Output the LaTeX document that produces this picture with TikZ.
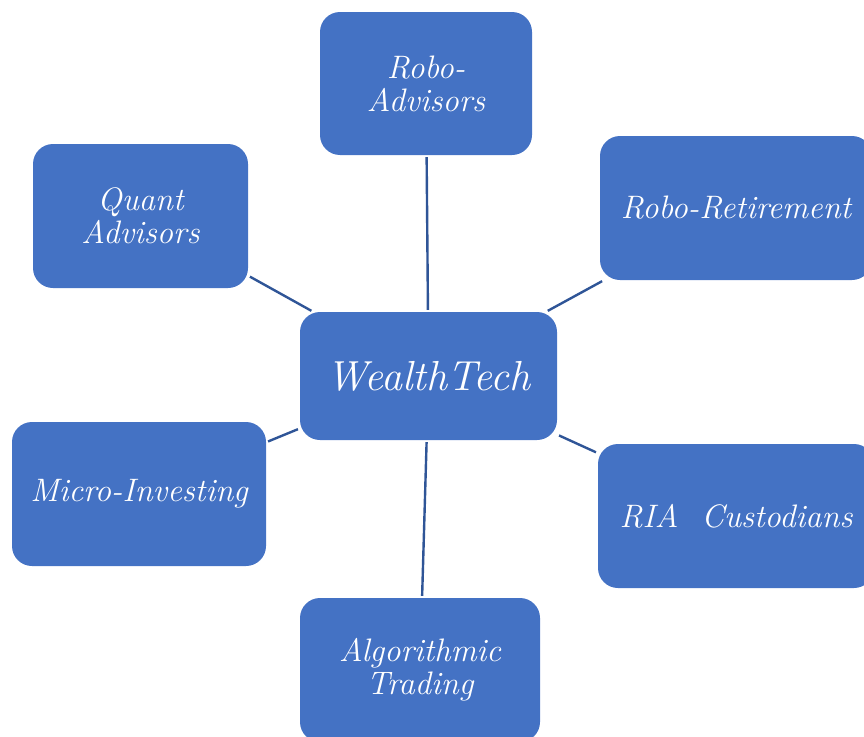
\documentclass[tikz,border=0pt]{standalone}
\usepackage{xcolor}
\usepackage{tikz}
\usetikzlibrary{positioning}
\definecolor{bleu}{HTML}{4472C4}
\definecolor{trait}{HTML}{2F5597}
\tikzset{
  case/.style={rectangle, rounded corners=20pt, draw=none, fill=bleu,
    text=white, font=\fontsize{32.5}{33}\selectfont\itshape, align=center,
    minimum height=144pt, inner sep=2pt},
  centre/.style={case, font=\fontsize{42}{44}\selectfont\itshape,
    minimum width=257pt, minimum height=128pt},
  lien/.style={line width=2.4pt, color=trait, shorten <=2pt, shorten >=2pt}
}

\begin{document}
\begin{tikzpicture}[x=1pt, y=-1pt]
    \useasboundingbox (0,0) rectangle (864,736);
    \begin{scope}
    \clip (0,0) rectangle (864,736);
    \node[centre] (wealth) at (428.5,376) {WealthTech};

    \node[case, minimum width=212pt, minimum height=143pt] (robo) at (426,83.5) {Robo-\\Advisors};
    \node[case, minimum width=272pt] (retraite) at (736,208) {Robo-Retirement};
    \node[case, minimum width=215pt] (quant) at (140.5,216) {Quant\\Advisors};
    \node[case, minimum width=254pt] (micro) at (139,494) {Micro-Investing};
    \node[case, minimum width=276pt] (ria) at (736,516) {RIA~~Custodians};
    \node[case, minimum width=240pt] (algo) at (420,670) {Algorithmic\\Trading};

    \draw[lien] (wealth) -- (robo);
    \draw[lien] (wealth) -- (retraite);
    \draw[lien] (wealth) -- (quant);
    \draw[lien] (wealth) -- (micro);
    \draw[lien] (wealth) -- (ria);
    \draw[lien] (wealth) -- (algo);
    \end{scope}
  \end{tikzpicture}
\end{document}
